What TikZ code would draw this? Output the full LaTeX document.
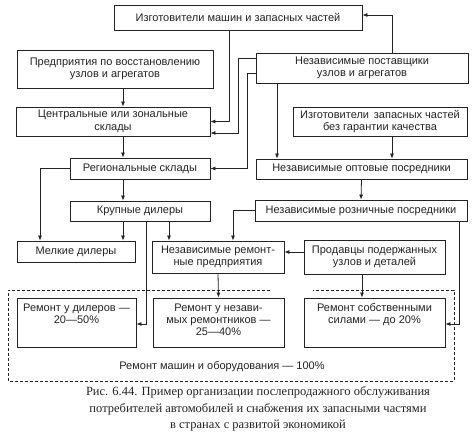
\documentclass[tikz,border=0pt]{standalone}
\usepackage{fontspec}
\setmainfont{Liberation Sans}
\newfontfamily\capfont{Liberation Serif}
\usetikzlibrary{arrows.meta,positioning}
\definecolor{ink}{RGB}{35,35,35}
\tikzset{
  bx/.style={rectangle,draw=ink,line width=0.8pt,inner sep=1pt,align=center,text=ink,font=\fontsize{11}{12.5}\selectfont},
  rbx/.style={bx,minimum height=49pt},
  rtxt/.style={anchor=north,inner sep=0pt,align=center,text=ink,font=\fontsize{11}{12}\selectfont,yshift=-6pt},
  arr/.style={-{Latex[length=5pt,width=4pt]},line width=0.8pt,ink},
  frame/.style={dash pattern=on 3pt off 2pt,line width=0.8pt,ink},
}
\begin{document}
\begin{tikzpicture}[x=1pt,y=-1pt]
  \useasboundingbox (0,0) rectangle (474,435);
  % suppliers and warehouses
  \node[bx,minimum width=248pt,minimum height=25pt](maker) at (238,17.5){Изготовители машин и запасных частей};
  \node[bx,minimum width=196pt,minimum height=38pt](restore) at (115,69){Предприятия по восстановлению\\узлов и агрегатов};
  \node[bx,minimum width=212pt,minimum height=30pt](suppl) at (362,68){Независимые поставщики\\узлов и агрегатов};
  \node[bx,minimum width=194pt,minimum height=29pt](central) at (113,121.5){Центральные или зональные\\склады};
  \node[bx,minimum width=174pt,minimum height=29pt](nogar) at (380,121.5){Изготовители \,запасных частей\\без гарантии качества};
  \node[bx,minimum width=140pt,minimum height=21pt](region) at (140,168.5){Региональные склады};
  \node[bx,minimum width=211pt,minimum height=20pt](whole) at (361.5,169){Независимые оптовые посредники};
  \node[bx,minimum width=140pt,minimum height=20pt](large) at (140,211){Крупные дилеры};
  \node[bx,minimum width=212pt,minimum height=21pt](retail) at (361,210.5){Независимые розничные посредники};
  \node[bx,minimum width=118pt,minimum height=21pt](small) at (76,251.5){Мелкие дилеры};
  \node[bx,minimum width=132pt,minimum height=32pt](indrep) at (218,257){Независимые ремонт-\\ные предприятия};
  \node[bx,minimum width=141pt,minimum height=34pt](used) at (374.5,257){Продавцы подержанных\\узлов и деталей};
  % repair shares
  \node[rbx,minimum width=119pt,label={[rtxt]north:Ремонт у дилеров —\\20—50\%}](rdeal) at (76.5,322.5){};
  \node[rbx,minimum width=131pt,label={[rtxt]north:Ремонт у незави-\\мых ремонтников —\\25—40\%}](rind) at (218.5,322.5){};
  \node[rbx,minimum width=141pt,label={[rtxt]north:Ремонт собственными\\силами — до 20\%}](rown) at (374.5,322.5){};
  \draw[frame] (270,290) -- (8,290) -- (8,381) -- (454,381) -- (454,290) -- (313,290);
  \node[text=ink,font=\fontsize{11}{12}\selectfont](total) at (222,367){Ремонт машин и оборудования — 100\%};
  % links
  \draw[arr] ([xshift=30pt]suppl.north) |- ([yshift=2.5pt]maker.east);
  \draw[arr] ([xshift=-9pt]maker.south) |- (central.east);
  \draw[arr] ([yshift=10pt]suppl.west) -| ([xshift=28pt,yshift=-11.5pt]central.east) -- ([yshift=-11.5pt]central.east);
  \draw[arr] ([yshift=-5pt]suppl.west) -| ([xshift=37pt]region.east) -- (region.east);
  \draw[arr] ([xshift=-85pt]suppl.south) coordinate (s1) -- (s1 |- whole.north);
  \draw[arr] ([xshift=8pt]restore.south) coordinate (r1) -- (r1 |- central.north);
  \draw[arr] ([xshift=-17pt]region.south |- central.south) coordinate (r2) -- (r2 |- region.north);
  \draw[arr] ([xshift=-17pt]region.south) coordinate (r3) -- (r3 |- large.north);
  \draw[arr] (region.west) -| ([xshift=-36pt]small.north);
  \draw[arr] ([xshift=-17pt]large.south) coordinate (k1) -- (k1 |- small.north);
  \draw[arr] ([xshift=6pt]large.south) |- ([yshift=-1.5pt]rdeal.east);
  \draw[arr] ([xshift=29pt]large.south) coordinate (k3) -- (k3 |- indrep.north);
  \draw[arr] (retail.west) -| ([xshift=15pt]indrep.north);
  \draw[arr] ([xshift=12pt]nogar.south) coordinate (n1) -- (n1 |- whole.north);
  \draw[arr] (whole.south) -- (retail.north);
  \draw[arr] ([xshift=98pt]retail.south) |- ([yshift=-1.5pt]rown.east);
  \draw[arr] ([yshift=5pt]used.west) -- ([yshift=5pt]indrep.east);
  \draw[arr] ([xshift=-12.5pt]used.south) coordinate (u1) -- (u1 |- rown.north);
  \draw[arr] (indrep.south) -- (rind.north);
  % caption
  \node[align=center,text=ink,font=\capfont\fontsize{12.5}{16.5}\selectfont](cap) at (258,409){Рис. 6.44. Пример организации послепродажного обслуживания\\потребителей автомобилей и снабжения их запасными частями\\в странах с развитой экономикой};
\end{tikzpicture}
\end{document}
